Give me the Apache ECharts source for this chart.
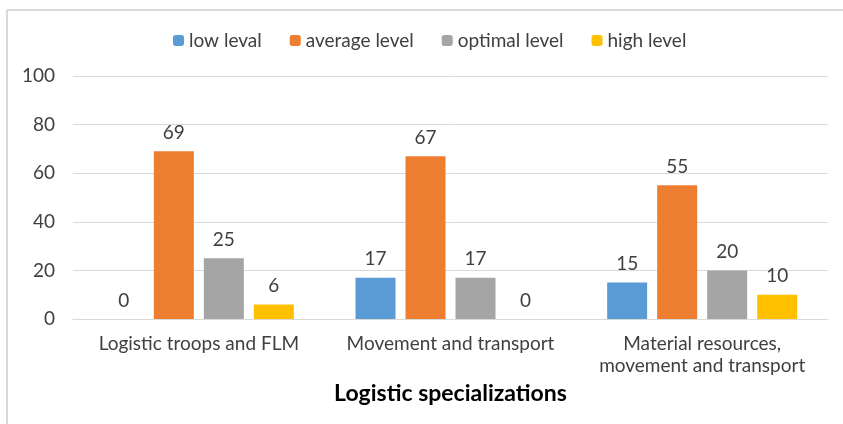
<!DOCTYPE html>
<html>
<head>
<meta charset="utf-8">
<script src="https://cdn.jsdelivr.net/npm/echarts@6/dist/echarts.min.js"></script>
<style>
	html, body { margin: 0; padding: 0; background: #fff; }
	#chart { width: 843px; height: 424px; }
</style>
</head>
<body>
<div id="chart"></div>
<script>
const categories = ["Logistic troops and FLM", "Movement and transport", "Material resources,\nmovement and transport"];
const seriesNames = ["low leval", "average level", "optimal level", "high level"];
const lowLevel = [0, 17, 15];
const averageLevel = [69, 67, 55];
const optimalLevel = [25, 17, 20];
const highLevel = [6, 0, 10];
const colors = ["#5B9BD5", "#ED7D31", "#A5A5A5", "#FFC000"];
const yTicks = [0, 20, 40, 60, 80, 100];

const font = "Lato, 'Open Sans', sans-serif";
const values = [lowLevel, averageLevel, optimalLevel, highLevel];

const chart = echarts.init(document.getElementById("chart"));
chart.setOption({
	animation: false,
	textStyle: { fontFamily: font },
	color: colors,
	graphic: [
		{ type: "line", shape: { x1: 7, y1: 10, x2: 843, y2: 10 }, style: { stroke: "#d9d9d9", lineWidth: 2 } },
		{ type: "line", shape: { x1: 7, y1: 10, x2: 7, y2: 424 }, style: { stroke: "#d9d9d9", lineWidth: 2 } },
	],
	legend: {
		top: 26,
		left: 168,
		itemWidth: 11,
		itemHeight: 11,
		itemGap: 28,
		textStyle: { fontSize: 19, color: "#404040", fontFamily: font },
		data: seriesNames,
	},
	grid: { left: 73, right: 15, top: 76, bottom: 105, containLabel: false },
	xAxis: {
		type: "category",
		data: categories,
		axisTick: { show: false },
		axisLine: { lineStyle: { color: "#d9d9d9" } },
		axisLabel: { interval: 0, hideOverlap: false, fontSize: 19, color: "#404040", margin: 14, lineHeight: 22 },
		name: "Logistic specializations",
		nameLocation: "middle",
		nameGap: 62,
		nameTextStyle: { fontSize: 23, fontWeight: "bold", color: "#000" },
	},
	yAxis: {
		type: "value",
		min: 0,
		max: 100,
		interval: 20,
		axisLabel: { fontSize: 19, color: "#404040", margin: 18, customValues: yTicks },
		splitLine: { lineStyle: { color: "#d9d9d9" } },
		axisLine: { show: false },
		axisTick: { show: false },
	},
	series: seriesNames.map((name, i) => ({
		name: name,
		type: "bar",
		data: values[i],
		barWidth: 40,
		barGap: "25%",
		label: { show: true, position: "top", distance: 9, fontSize: 19, color: "#404040" },
	})),
});
</script>
</body>
</html>
